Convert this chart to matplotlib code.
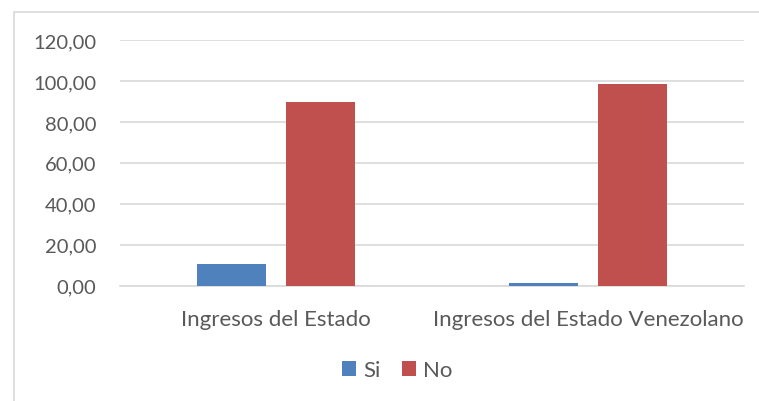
import matplotlib
matplotlib.use("Agg")
import matplotlib.pyplot as plt
from matplotlib.patches import Rectangle

categories = ["Ingresos del Estado", "Ingresos del Estado Venezolano"]
si = [10.4, 1.3]
no = [89.6, 98.7]
yticks = [0, 20, 40, 60, 80, 100, 120]

plt.rcParams['font.family'] = ['Lato', 'DejaVu Sans']
txt = '#595959'
fig = plt.figure(figsize=(7.59, 4.02), dpi=100)
fig.patches.append(Rectangle((13.5/759, -0.05), 1.0, 1.05 - 12.5/402, transform=fig.transFigure,
                             fill=False, edgecolor='#d9d9d9', linewidth=1.2))
ax = fig.add_axes([120/759, 1-286.7/402, 624/759, (286.7-41)/402])

x = list(range(len(categories)))
w = 0.224
off = 0.1425
ax.bar([i - off for i in x], si, width=w, color='#4f81bd', label='Si', zorder=3)
ax.bar([i + off for i in x], no, width=w, color='#c0504d', label='No', zorder=3)
ax.set_xlim(-0.5, 1.5)
ax.set_ylim(0, 120)
ax.set_yticks(yticks)
ax.set_yticklabels([f"{v:.2f}".replace('.', ',') for v in yticks], color=txt, fontsize=14.5)
ax.set_xticks(x)
ax.set_xticklabels(categories, color=txt, fontsize=16)
ax.yaxis.grid(True, color='#d9d9d9', linewidth=1.2, zorder=0)
ax.tick_params(axis='y', length=0, pad=17)
ax.tick_params(axis='x', length=0, pad=17)
for s in ['top', 'right', 'left']:
    ax.spines[s].set_visible(False)
ax.spines['bottom'].set_color('#d9d9d9')
ax.spines['bottom'].set_linewidth(1.2)
leg = fig.legend(loc='center', bbox_to_anchor=(397/759, 1-371/402), ncol=2, frameon=False,
                 fontsize=16, handlelength=0.65, handleheight=0.65, handletextpad=0.3, columnspacing=0.95)
for t in leg.get_texts():
    t.set_color(txt)
fig.savefig('out.png', dpi=100)
